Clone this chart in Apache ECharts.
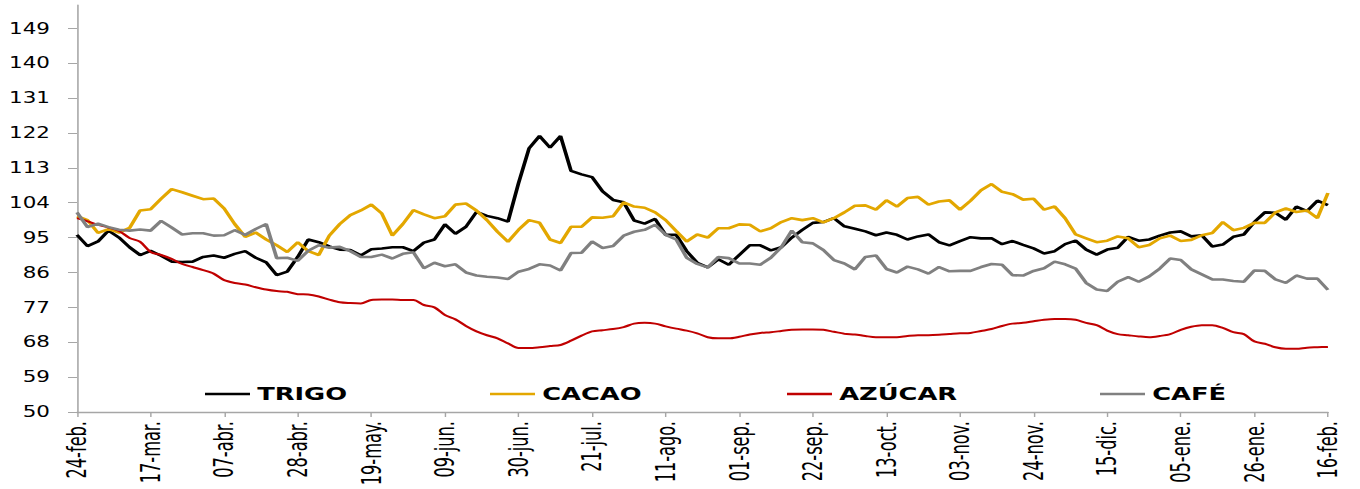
<!DOCTYPE html>
<html>
<head>
<meta charset="utf-8">
<script src="https://cdn.jsdelivr.net/npm/echarts@6/dist/echarts.min.js"></script>
<style>
  html, body { margin: 0; padding: 0; background: #fff; overflow: hidden; }
  #chart { height: 489px; transform-origin: 0 0; }
</style>
</head>
<body>
<div id="chart"></div>
<script>
// the source picture is a horizontally stretched Excel chart, so draw narrow and stretch
var SX = 1.43;
function px(x) { return x / SX; }

var monthNames = ["ene.", "feb.", "mar.", "abr.", "may.", "jun.", "jul.", "ago.", "sep.", "oct.", "nov.", "dic."];
var startDay = [2021, 1, 24];   // 24-feb.
var stepDays = 3;
var pointCount = 120;
var yTicks = [50, 59, 68, 77, 86, 95, 104, 113, 122, 131, 140, 149];

var names = ["TRIGO", "CACAO", "AZÚCAR", "CAFÉ"];
var colors = ["#000000", "#e3a700", "#c00000", "#808080"];

var trigo = [
  95.7, 92.8, 94, 96.8, 95, 92.5, 90.5, 91.6, 90.3, 88.8,
  88.7, 88.8, 90, 90.4, 89.8, 90.8, 91.5, 89.8, 88.6, 85.3,
  86.2, 90, 94.5, 93.8, 92.7, 91.9, 91.8, 90.4, 92, 92.2,
  92.5, 92.5, 91.5, 93.7, 94.5, 98.4, 96, 97.8, 101.6, 100.6,
  100, 99.1, 109, 118, 121.2, 118.2, 121.2, 112.2, 111.3, 110.6,
  106.9, 104.7, 104.1, 99.4, 98.6, 99.8, 95.7, 95.7, 91.5, 88.5,
  87.3, 89.4, 88, 90.5, 93, 93, 91.7, 92.5, 95, 97,
  98.8, 99, 100, 97.9, 97.3, 96.6, 95.6, 96.3, 95.7, 94.5,
  95.3, 95.8, 93.8, 93, 94.1, 95.1, 94.8, 94.8, 93.3, 94.1,
  93.1, 92.2, 90.9, 91.5, 93.3, 94.2, 91.9, 90.6, 91.9, 92.4,
  95.2, 94.2, 94.5, 95.5, 96.3, 96.6, 95.3, 95.6, 92.7, 93.2,
  95.2, 95.8, 99, 101.5, 101.4, 99.6, 103, 101.8, 104.5, 103.4
];
var cacao = [
  100.5, 99.5, 96.2, 97.2, 96.3, 97.5, 102, 102.3, 105, 107.5,
  106.7, 105.8, 104.9, 105.1, 102.5, 98.5, 95.2, 96.3, 94.5, 93,
  91.3, 93.8, 91.5, 90.5, 95.5, 98.5, 100.8, 102, 103.5, 101.2,
  95.5, 98.5, 102.1, 101, 100, 100.5, 103.5, 103.8, 102, 99.5,
  96.5, 93.9, 97, 99.5, 98.8, 94.5, 93.6, 97.8, 97.8, 100.2,
  100.1, 100.5, 104.1, 103, 102.7, 101.5, 99.5, 96.7, 94, 95.8,
  95, 97.4, 97.4, 98.4, 98.3, 96.6, 97.4, 99, 100, 99.5,
  100, 98.9, 100, 101.5, 103.2, 103.3, 102.2, 104.6, 103, 105.2,
  105.5, 103.5, 104.3, 104.6, 102.2, 104.5, 107.2, 108.8, 106.8, 106.2,
  104.8, 105, 102.2, 103, 100, 95.8, 94.8, 93.8, 94.2, 95.3,
  94.8, 92.5, 93.1, 94.8, 95.5, 94.1, 94.4, 95.6, 96.2, 99,
  96.9, 97.5, 98.8, 98.8, 101.5, 102.5, 101.6, 102, 100, 106.5
];
var azucar = [
  100, 99.2, 98.3, 97.6, 96.7, 94.9, 93.9, 91.3, 90.5, 89.5,
  88.2, 87.4, 86.6, 85.7, 84, 83.3, 82.9, 82.2, 81.6, 81.2,
  81, 80.4, 80.3, 79.8, 79, 78.3, 78.1, 78, 78.9, 79,
  79, 78.9, 78.9, 77.6, 77, 75, 73.9, 72.2, 70.8, 69.8,
  69, 67.7, 66.5, 66.5, 66.7, 67, 67.3, 68.4, 69.7, 70.8,
  71.1, 71.4, 71.9, 72.8, 73, 72.8, 72.1, 71.5, 71, 70.3,
  69.3, 69, 69, 69.4, 70, 70.4, 70.6, 70.9, 71.2, 71.3,
  71.3, 71.2, 70.7, 70.2, 70, 69.6, 69.3, 69.3, 69.3, 69.6,
  69.8, 69.8, 69.9, 70.1, 70.3, 70.4, 70.9, 71.4, 72.2, 72.8,
  73, 73.4, 73.8, 74, 74, 73.8, 73, 72.4, 71, 70.1,
  69.8, 69.5, 69.3, 69.6, 70.1, 71.2, 72, 72.4, 72.4, 71.7,
  70.6, 70.1, 68.2, 67.6, 66.7, 66.3, 66.3, 66.6, 66.7, 66.8
];
var cafe = [
  101.5, 97.7, 98.6, 97.7, 97, 96.8, 97.1, 96.8, 99.3, 97.6,
  95.8, 96.1, 96.1, 95.5, 95.6, 96.9, 95.7, 97.2, 98.5, 89.7,
  89.8, 89, 91.6, 93, 92.4, 92.6, 91.5, 90, 90, 90.6,
  89.6, 90.8, 91.2, 87.1, 88.5, 87.6, 88.1, 86, 85.2, 84.9,
  84.7, 84.3, 86.2, 86.9, 88.1, 87.8, 86.5, 91, 91.1, 94,
  92.3, 92.8, 95.5, 96.5, 97, 98.3, 95.7, 94.5, 89.8, 88.2,
  87.3, 90, 89.7, 88.3, 88.3, 88, 89.8, 92.5, 96.8, 93.8,
  93.5, 91.8, 89.2, 88.3, 86.8, 90, 90.4, 86.9, 86, 87.5,
  86.8, 85.7, 87.4, 86.3, 86.4, 86.4, 87.4, 88.2, 88, 85.3,
  85.2, 86.4, 87.1, 88.8, 88.1, 87, 83.3, 81.6, 81.2, 83.6,
  84.8, 83.6, 85, 87, 89.6, 89.2, 86.8, 85.5, 84.2, 84.2,
  83.8, 83.6, 86.5, 86.4, 84.2, 83.3, 85.2, 84.4, 84.4, 81.5
];

var dates = [];
for (var i = 0; i < pointCount; i++) {
  var d = new Date(startDay[0], startDay[1], startDay[2] + i * stepDays);
  var dd = d.getDate() < 10 ? "0" + d.getDate() : "" + d.getDate();
  dates.push(dd + "-" + monthNames[d.getMonth()]);
}

var el = document.getElementById("chart");
el.style.width = 1360 / SX + "px";
el.style.transform = "scaleX(" + SX + ")";

var chart = echarts.init(el, null, { renderer: "svg" });

var axisGray = "#a6a6a6";
var lineWidths = [2.6, 2.6, 2, 2.6];
var values = [trigo, cacao, azucar, cafe];
// left edge of each legend entry, in picture pixels
var legendLeft = [205, 490, 787, 1100];

var option = {
  animation: false,
  color: colors,
  grid: {
    left: px(77),
    right: px(32),
    top: 5,
    bottom: 77,
    containLabel: false,
    outerBoundsMode: "none",
  },
  legend: names.map(function (n, k) {
    return {
      data: [n],
      left: px(legendLeft[k]),
      top: 385,
      padding: 0,
      icon: "rect",
      itemWidth: px(45),
      itemHeight: 2.6,
      textStyle: {
        fontFamily: "DejaVu Sans",
        fontWeight: "bold",
        fontSize: 18,
        color: "#000",
      },
    };
  }),
  xAxis: {
    type: "category",
    data: dates,
    boundaryGap: false,
    axisLine: {
      lineStyle: { color: axisGray, width: 1.3 },
    },
    axisTick: {
      interval: 6,
      length: 5,
      lineStyle: { color: axisGray },
    },
    axisLabel: {
      interval: 6,
      rotate: 90,
      margin: 9,
      fontFamily: "Liberation Sans Narrow, DejaVu Sans Condensed, sans-serif",
      fontSize: 18,
      color: "#000",
    },
    splitLine: { show: false },
  },
  yAxis: {
    type: "value",
    min: 50,
    max: 155,
    axisLine: {
      show: true,
      lineStyle: { color: axisGray, width: 1.1 },
    },
    axisTick: {
      show: true,
      length: px(9),
      customValues: yTicks,
      lineStyle: { color: axisGray },
    },
    axisLabel: {
      customValues: yTicks,
      margin: px(27),
      fontFamily: "DejaVu Sans",
      fontSize: 15,
      color: "#000",
    },
    splitLine: { show: false },
  },
  series: names.map(function (n, k) {
    return {
      name: n,
      type: "line",
      data: values[k],
      symbol: "none",
      smooth: k === 2 ? 0.3 : false,
      lineStyle: { width: lineWidths[k], color: colors[k] },
      itemStyle: { color: colors[k] },
    };
  }),
};
chart.setOption(option);
</script>
</body>
</html>
